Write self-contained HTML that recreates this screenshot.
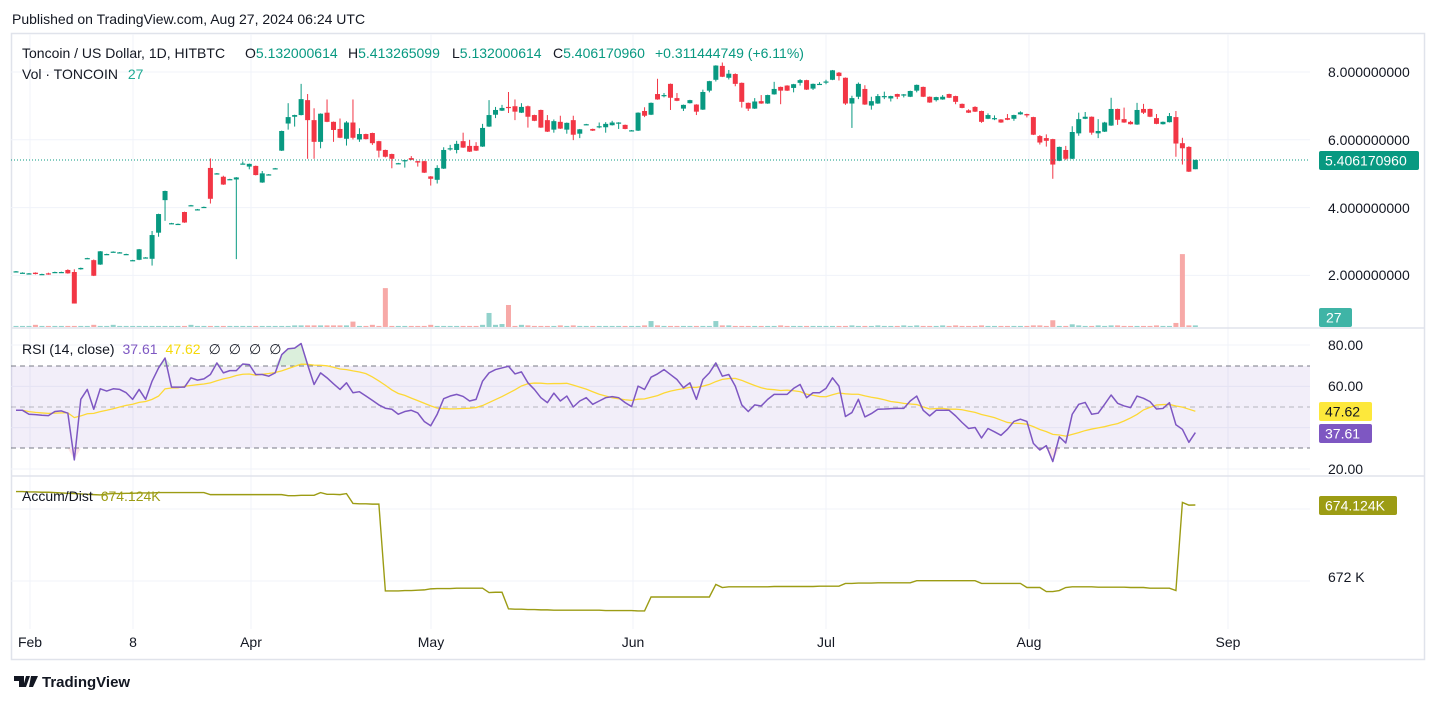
<!DOCTYPE html>
<html><head><meta charset="utf-8"><style>
html,body{margin:0;padding:0;background:#fff;}
svg{display:block;font-family:"Liberation Sans",sans-serif;}
</style></head><body>
<svg id="chart" width="1438" height="703" viewBox="0 0 1438 703">
<defs>
<clipPath id="clipMain"><rect x="11" y="34" width="1299" height="293"/></clipPath>
<clipPath id="clipRsi"><rect x="11" y="329" width="1299" height="146"/></clipPath>
<clipPath id="clipAd"><rect x="11" y="477" width="1299" height="152"/></clipPath>
</defs>
<rect x="0" y="0" width="1438" height="703" fill="#fff"/>
<text x="12" y="24" font-size="14" fill="#131722">Published on TradingView.com, Aug 27, 2024 06:24 UTC</text>
<rect x="11.5" y="33.5" width="1413" height="626" fill="none" stroke="#e0e3eb" stroke-width="1.5"/>
<g id="grid"></g>
<rect x="11" y="366" width="1299" height="82" fill="#7e57c2" fill-opacity="0.1"/>
<g stroke="#787b86" stroke-dasharray="5,4" stroke-width="1">
<line x1="11" x2="1310" y1="366" y2="366"/><line x1="11" x2="1310" y1="407" y2="407" stroke-opacity="0.5"/><line x1="11" x2="1310" y1="448" y2="448"/>
</g>
<line x1="11" x2="1425" y1="328" y2="328" stroke="#e0e3eb" stroke-width="1.5"/>
<line x1="11" x2="1425" y1="476" y2="476" stroke="#e0e3eb" stroke-width="1.5"/>
<g id="vols" clip-path="url(#clipMain)"></g>
<g id="candles" clip-path="url(#clipMain)"></g>
<line x1="11" x2="1310" y1="160" y2="160" stroke="#089981" stroke-width="1" stroke-dasharray="1,2"/>
<g id="rsiG" clip-path="url(#clipRsi)"></g>
<g id="adG" clip-path="url(#clipAd)"></g>
<g font-size="14" fill="#131722">
<text x="22" y="58">Toncoin / US Dollar, 1D, HITBTC</text>
<text x="245" y="58">O<tspan fill="#089981">5.132000614</tspan></text>
<text x="348" y="58">H<tspan fill="#089981">5.413265099</tspan></text>
<text x="452" y="58">L<tspan fill="#089981">5.132000614</tspan></text>
<text x="553" y="58">C<tspan fill="#089981">5.406170960</tspan></text>
<text x="655" y="58" fill="#089981">+0.311444749 (+6.11%)</text>
<text x="22" y="79">Vol · TONCOIN <tspan dx="6" fill="#22ab94">27</tspan></text>
<text x="22" y="354">RSI (14, close) <tspan dx="4" fill="#7e57c2">37.61</tspan><tspan dx="8" fill="#f5d90a">47.62</tspan><tspan dx="8">∅</tspan><tspan dx="8">∅</tspan><tspan dx="8">∅</tspan><tspan dx="8">∅</tspan></text>
<text x="22" y="501">Accum/Dist <tspan dx="4" fill="#9c9c14">674.124K</tspan></text>
</g>
<g font-size="14" fill="#131722">
<text x="1328" y="77">8.000000000</text>
<text x="1328" y="145">6.000000000</text>
<text x="1328" y="213">4.000000000</text>
<text x="1328" y="280">2.000000000</text>
<text x="1328" y="350">80.00</text>
<text x="1328" y="391">60.00</text>
<text x="1328" y="474">20.00</text>
<text x="1328" y="582">672 K</text>
</g>
<rect x="1319" y="151" width="100" height="19" rx="2" fill="#089981"/>
<text x="1325" y="165.5" font-size="14" fill="#fff">5.406170960</text>
<rect x="1319" y="308" width="33" height="19" rx="2" fill="#3fb4a6"/>
<text x="1326" y="322.5" font-size="14" fill="#fff">27</text>
<rect x="1319" y="402" width="53" height="19" rx="2" fill="#fde83b"/>
<text x="1325" y="416.5" font-size="14" fill="#131722">47.62</text>
<rect x="1319" y="424" width="53" height="19" rx="2" fill="#7e57c2"/>
<text x="1325" y="438.5" font-size="14" fill="#fff">37.61</text>
<rect x="1319" y="496" width="78" height="19" rx="2" fill="#9c9c14"/>
<text x="1325" y="510.5" font-size="14" fill="#fff">674.124K</text>
<g id="timeAxis" font-size="14" fill="#131722" text-anchor="middle"></g>
<g>
<path d="M14 676 h10 v11 h-5 v-6 h-5 z M26 676 h4 l-4 11 h-3 z M31 676 h7 l-5 11 h-4 z" fill="#131722"/>
<text x="42" y="687" font-size="15" font-weight="bold" fill="#131722">TradingView</text>
</g>
</svg>
<script>
const opens=[2.12,2.08,2.06,2.08,2.04,2.06,2.10,2.10,2.16,2.10,2.18,2.51,2.45,2.32,2.63,2.70,2.68,2.63,2.45,2.46,2.53,2.49,3.26,4.22,3.54,3.52,3.87,4.07,3.95,4.02,5.17,5.01,4.91,4.84,4.83,5.30,5.21,5.23,4.74,4.98,5.16,5.68,6.48,6.68,6.73,7.17,6.58,5.94,6.80,6.53,6.32,6.03,6.51,6.01,6.17,6.20,5.96,5.70,5.58,5.31,5.37,5.46,5.37,5.37,4.92,4.82,5.15,5.75,5.70,5.96,5.82,5.82,5.80,6.39,6.74,6.86,6.97,6.99,6.80,6.99,6.73,6.88,6.58,6.30,6.53,6.30,6.58,6.18,6.46,6.32,6.40,6.37,6.43,6.51,6.44,6.28,6.27,6.85,6.74,7.35,7.32,7.65,7.23,6.92,7.08,7.04,6.89,7.45,7.77,8.18,7.83,7.94,7.68,7.09,6.92,7.14,7.07,7.34,7.56,7.60,7.53,7.68,7.76,7.51,7.65,7.69,7.77,7.98,7.83,7.07,7.27,7.50,7.01,7.07,7.29,7.22,7.35,7.34,7.27,7.45,7.56,7.27,7.17,7.19,7.35,7.29,7.06,6.87,6.97,6.85,6.62,6.64,6.60,6.64,6.62,6.75,6.76,6.67,6.11,6.05,6.02,5.38,5.70,5.44,6.19,6.62,6.68,6.19,6.24,6.42,6.91,6.61,6.53,6.45,6.91,6.91,6.64,6.46,6.52,6.67,5.90,5.79,5.132];
const closes=[2.12,2.08,2.06,2.04,2.04,2.03,2.10,2.10,2.06,1.17,2.22,2.51,1.99,2.71,2.63,2.70,2.68,2.63,2.45,2.77,2.53,3.19,3.81,4.49,3.54,3.52,3.56,4.07,3.95,4.02,4.26,5.01,4.68,4.84,4.89,5.30,5.29,4.96,5.01,4.98,5.16,6.26,6.67,6.73,7.20,6.58,5.94,6.77,6.53,6.29,6.06,6.51,6.06,6.17,6.02,5.90,5.68,5.50,5.44,5.31,5.40,5.41,5.33,5.03,4.85,5.17,5.70,5.75,5.88,5.77,5.65,5.68,6.35,6.73,6.88,6.94,6.96,6.83,6.97,6.68,6.56,6.36,6.24,6.55,6.33,6.50,6.15,6.31,6.46,6.27,6.40,6.47,6.51,6.51,6.32,6.28,6.80,6.71,7.09,7.19,7.32,7.24,7.15,7.03,7.17,6.83,7.41,7.73,8.19,7.86,7.95,7.65,7.12,6.92,7.13,7.07,7.32,7.50,7.45,7.45,7.64,7.76,7.48,7.65,7.65,7.72,8.05,7.88,7.07,7.23,7.65,7.04,7.14,7.29,7.29,7.29,7.27,7.34,7.44,7.62,7.27,7.10,7.26,7.27,7.24,7.12,6.94,6.80,6.83,6.53,6.73,6.64,6.51,6.59,6.73,6.81,6.72,6.15,5.92,5.97,5.27,5.79,5.44,6.23,6.61,6.68,6.21,6.26,6.51,6.91,6.59,6.51,6.46,6.88,6.80,6.68,6.47,6.53,6.70,5.89,5.75,5.06,5.406];
const highs=[2.13,2.09,2.07,2.09,2.05,2.08,2.11,2.11,2.18,2.18,2.23,2.52,2.47,2.72,2.64,2.71,2.69,2.64,2.46,2.78,2.54,3.31,3.82,4.50,3.55,3.53,3.88,4.08,3.96,4.03,5.45,5.02,4.94,4.85,4.90,5.36,5.30,5.24,5.08,4.99,5.17,6.27,7.08,6.74,7.65,7.35,6.93,6.78,7.19,6.54,6.63,6.55,7.19,6.34,6.18,6.21,5.97,5.71,5.59,5.32,5.41,5.52,5.38,5.38,4.93,5.25,5.78,5.85,5.97,6.21,6.00,5.93,6.47,7.17,6.97,7.03,7.41,7.19,7.08,7.01,6.74,6.89,6.73,6.60,6.71,6.51,6.71,6.32,6.47,6.33,6.51,6.52,6.56,6.52,6.45,6.29,6.81,6.96,7.10,7.80,7.38,7.66,7.38,7.04,7.18,7.05,7.48,7.74,8.20,8.28,8.06,7.96,7.69,7.10,7.23,7.32,7.33,7.71,7.57,7.61,7.65,7.79,7.77,7.66,7.70,7.77,8.06,8.00,7.84,7.30,7.69,7.61,7.27,7.35,7.42,7.30,7.36,7.35,7.45,7.63,7.57,7.28,7.27,7.32,7.36,7.30,7.07,6.90,6.99,6.86,6.78,6.72,6.61,6.76,6.74,6.84,6.77,6.68,6.14,6.16,6.03,5.80,5.82,6.40,6.80,6.82,6.69,6.61,6.53,7.24,6.92,6.95,6.56,7.09,7.06,6.92,6.76,6.54,6.79,6.85,6.06,5.81,5.413];
const lows=[2.11,2.07,2.05,2.03,2.03,2.02,2.09,2.09,2.05,1.17,2.17,2.50,1.98,2.31,2.62,2.69,2.67,2.62,2.44,2.45,2.52,2.29,3.14,3.61,3.53,3.51,3.55,4.06,3.94,4.01,4.12,5.00,4.67,4.83,2.48,5.29,5.13,4.95,4.73,4.97,5.15,5.67,6.30,6.39,6.72,5.44,5.44,5.75,6.52,5.94,6.05,5.83,6.01,5.94,6.01,5.85,5.48,5.48,5.16,5.30,5.18,5.40,5.21,5.02,4.65,4.71,5.14,5.68,5.60,5.76,5.64,5.67,5.79,6.38,6.64,6.85,6.79,6.58,6.79,6.36,6.55,6.35,6.23,6.21,6.32,6.18,5.99,6.05,6.45,6.26,6.34,6.21,6.42,6.32,6.31,6.27,6.26,6.67,6.73,7.18,7.25,6.88,7.14,6.85,7.07,6.73,6.88,7.40,7.72,7.85,7.78,7.58,6.95,6.85,6.91,7.06,7.06,7.33,7.05,7.44,7.40,7.60,7.47,7.47,7.62,7.64,7.76,7.75,7.03,6.35,7.20,7.03,6.89,7.06,7.20,7.13,7.20,7.25,7.26,7.40,7.26,7.09,7.13,7.18,7.23,7.05,6.93,6.79,6.82,6.50,6.61,6.58,6.50,6.58,6.56,6.74,6.66,6.14,5.86,5.80,4.85,5.37,5.40,5.43,6.12,6.61,6.15,6.05,6.23,6.41,6.44,6.50,6.45,6.44,6.76,6.67,6.46,6.45,6.51,5.50,5.27,5.05,5.132];
const volumes=[40,40,40,80,40,40,40,40,40,40,
40,40,80,40,40,80,40,40,40,40,
40,40,40,40,40,40,40,80,40,40,
40,40,40,40,40,40,40,40,40,40,
40,40,40,60,60,60,60,60,60,60,
60,60,200,40,40,80,40,1440,40,40,
40,40,40,40,80,40,40,40,40,40,
40,40,80,520,80,110,815,40,80,60,
40,40,40,40,60,40,60,40,40,40,
40,40,40,40,40,40,40,60,220,60,
40,40,40,40,40,40,40,40,220,60,
60,40,40,40,40,40,40,40,60,40,
40,40,40,40,40,40,40,40,40,60,
40,40,40,60,40,40,40,60,40,60,
40,40,40,60,40,60,40,40,40,60,
40,40,40,40,40,40,40,60,60,40,
250,40,40,100,60,40,40,60,40,60,
60,40,40,40,40,40,60,40,40,150,
2700,60,60];
const rsiValues=[48.4,48.4,46.5,46.3,46.0,45.8,47.8,48.1,47.0,24.4,
53.7,58.5,48.9,58.8,57.7,58.8,58.5,56.9,53.7,58.5,
53.7,62.5,68.9,73.7,59.6,59.6,59.6,64.1,63.0,63.6,
65.7,71.3,66.5,67.6,67.6,70.8,70.5,65.7,65.7,64.9,
66.5,75.3,78.2,78.5,80.7,70.5,60.9,66.5,64.1,61.2,
58.5,61.7,56.9,57.4,55.3,53.2,51.0,49.4,48.9,46.5,
47.8,48.4,47.1,43.0,40.9,46.5,54.0,55.3,56.1,55.1,
52.9,53.7,62.5,66.5,68.1,68.9,69.7,66.0,67.0,61.7,
58.5,54.5,52.1,56.7,52.9,55.3,50.0,52.9,54.5,51.3,
52.9,54.5,55.0,54.5,52.1,50.2,60.1,58.5,64.4,66.0,
68.1,65.7,63.3,59.3,61.7,53.7,63.3,66.5,71.3,64.9,
65.7,60.1,51.0,47.8,51.0,50.5,53.7,56.1,56.1,56.1,
59.0,60.9,54.5,56.9,56.9,59.0,64.1,60.1,45.4,47.3,
53.7,45.2,46.8,48.9,49.0,49.2,49.3,49.3,52.9,55.3,
48.4,45.7,48.4,48.4,48.4,45.7,42.5,39.6,40.1,35.0,
39.6,38.0,36.3,39.2,43.0,44.1,43.0,32.4,29.2,31.3,
23.6,35.6,32.6,46.5,51.3,52.2,46.5,47.0,51.3,55.8,
51.8,50.5,49.7,55.3,54.2,52.6,49.0,49.3,52.1,41.4,
39.2,32.9,37.61];
const adValues=[674.52,674.52,674.51,674.51,674.50,674.50,674.49,674.48,674.47,674.46,
674.45,674.44,674.43,674.42,674.45,674.46,674.46,674.47,674.47,674.48,
674.48,674.48,674.49,674.49,674.49,674.49,674.49,674.49,674.49,674.49,
674.43,674.43,674.43,674.43,674.43,674.43,674.43,674.43,674.43,674.43,
674.43,674.43,674.40,674.40,674.41,674.41,674.41,674.49,674.44,674.44,
674.43,674.46,674.17,674.16,674.16,674.15,674.15,671.59,671.59,671.59,
671.60,671.60,671.61,671.62,671.65,671.66,671.66,671.66,671.67,671.67,
671.67,671.67,671.67,671.54,671.55,671.55,671.06,671.05,671.05,671.04,
671.04,671.03,671.03,671.02,671.02,671.02,671.02,671.02,671.02,671.02,
671.02,671.01,671.01,671.01,671.01,671.01,671.00,671.00,671.41,671.41,
671.41,671.41,671.41,671.41,671.41,671.41,671.41,671.41,671.78,671.69,
671.71,671.71,671.71,671.71,671.71,671.71,671.71,671.72,671.72,671.72,
671.72,671.72,671.72,671.72,671.73,671.73,671.73,671.73,671.81,671.81,
671.82,671.82,671.82,671.83,671.83,671.83,671.83,671.83,671.83,671.89,
671.89,671.89,671.89,671.89,671.89,671.89,671.89,671.89,671.89,671.81,
671.81,671.81,671.81,671.81,671.81,671.81,671.69,671.69,671.69,671.57,
671.57,671.60,671.69,671.71,671.71,671.71,671.71,671.70,671.70,671.70,
671.70,671.70,671.69,671.69,671.69,671.67,671.67,671.67,671.67,671.60,
674.20,674.12,674.124];
const timeLabels=["Feb","8","Apr","May","Jun","Jul","Aug","Sep"];
const timeLabelX=[30,133,251,431,633,826,1029,1228];
const priceTicks=[8,6,4,2];
const rsiTicks=[80,60,40,20];
const adTicks=[674.124,672];

const NS="http://www.w3.org/2000/svg";
const xOf=i=>16+6.48*i;
const yPrice=p=>72+(8-p)*33.9;
const yVol=v=>327-v*0.027;
const yRsi=v=>469-(v-20)*2.067;
const yAd=v=>577-(v-672)*33.9;
function mk(tag,attrs,parent){const e=document.createElementNS(NS,tag);for(const k in attrs)e.setAttribute(k,attrs[k]);parent.appendChild(e);return e;}

const grid=document.getElementById('grid');
timeLabelX.forEach((x,i)=>{
  const l=mk('line',{x1:x,x2:x,y1:34,y2:629,stroke:'#f0f3fa','stroke-width':1},grid);
  
  
  const t=mk('text',{x:x,y:647},document.getElementById('timeAxis'));
  t.textContent=timeLabels[i];
  
  
});
priceTicks.forEach(p=>{const l=mk('line',{x1:11,x2:1310,y1:yPrice(p),y2:yPrice(p),stroke:'#f0f3fa'},grid);
  
  });
rsiTicks.forEach(v=>{const l=mk('line',{x1:11,x2:1310,y1:yRsi(v),y2:yRsi(v),stroke:'#f0f3fa'},grid);
  
  });
adTicks.forEach(v=>{const l=mk('line',{x1:11,x2:1310,y1:yAd(v)+4,y2:yAd(v)+4,stroke:'#f0f3fa'},grid);
  
  });

const vg=document.getElementById('vols'), cg=document.getElementById('candles');
closes.forEach((c,i)=>{
  const o=opens[i], up=c>=o, x=xOf(i);
  const vy=yVol(volumes[i]);
  const vb=mk('rect',{x:x-2.5,y:vy,width:5,height:Math.max(1,327-vy),fill:up?'#92d2cc':'#f7a9a7'},vg);
  
  
  const col=up?'#089981':'#f23645';
  const w=mk('line',{x1:x,x2:x,y1:yPrice(highs[i]),y2:yPrice(lows[i]),stroke:col,'stroke-width':1},cg);
  
  
  const t=Math.min(yPrice(o),yPrice(c)), h=Math.max(1.2,Math.abs(yPrice(o)-yPrice(c)));
  const b=mk('rect',{x:x-2.5,y:t,width:5,height:h,fill:col},cg);
  
  
});

const rg=document.getElementById('rsiG');
const ma=rsiValues.map((v,i)=>{const s=rsiValues.slice(Math.max(0,i-13),i+1);return s.reduce((a,b)=>a+b,0)/s.length;});
let obPath='M'+xOf(0)+','+yRsi(70);
rsiValues.forEach((v,i)=>{obPath+=' L'+xOf(i)+','+Math.min(yRsi(v),yRsi(70));});
obPath+=' L'+xOf(rsiValues.length-1)+','+yRsi(70)+' Z';
const ob=mk('path',{d:obPath,fill:'#4caf50','fill-opacity':0.2},rg);


let osPath='M'+xOf(0)+','+yRsi(30);
rsiValues.forEach((v,i)=>{osPath+=' L'+xOf(i)+','+Math.max(yRsi(v),yRsi(30));});
osPath+=' L'+xOf(rsiValues.length-1)+','+yRsi(30)+' Z';
const os=mk('path',{d:osPath,fill:'#f23645','fill-opacity':0.12},rg);


const maLine=mk('polyline',{points:ma.map((v,i)=>xOf(i)+','+yRsi(v)).join(' '),fill:'none',stroke:'#fdd835','stroke-width':1.3},rg);


const rsiLine=mk('polyline',{points:rsiValues.map((v,i)=>xOf(i)+','+yRsi(v)).join(' '),fill:'none',stroke:'#7e57c2','stroke-width':1.5,'stroke-linejoin':'round'},rg);



const ag=document.getElementById('adG');
const adLine=mk('polyline',{points:adValues.map((v,i)=>xOf(i)+','+yAd(v)).join(' '),fill:'none',stroke:'#9c9c14','stroke-width':1.4},ag);


</script>
</body></html>
